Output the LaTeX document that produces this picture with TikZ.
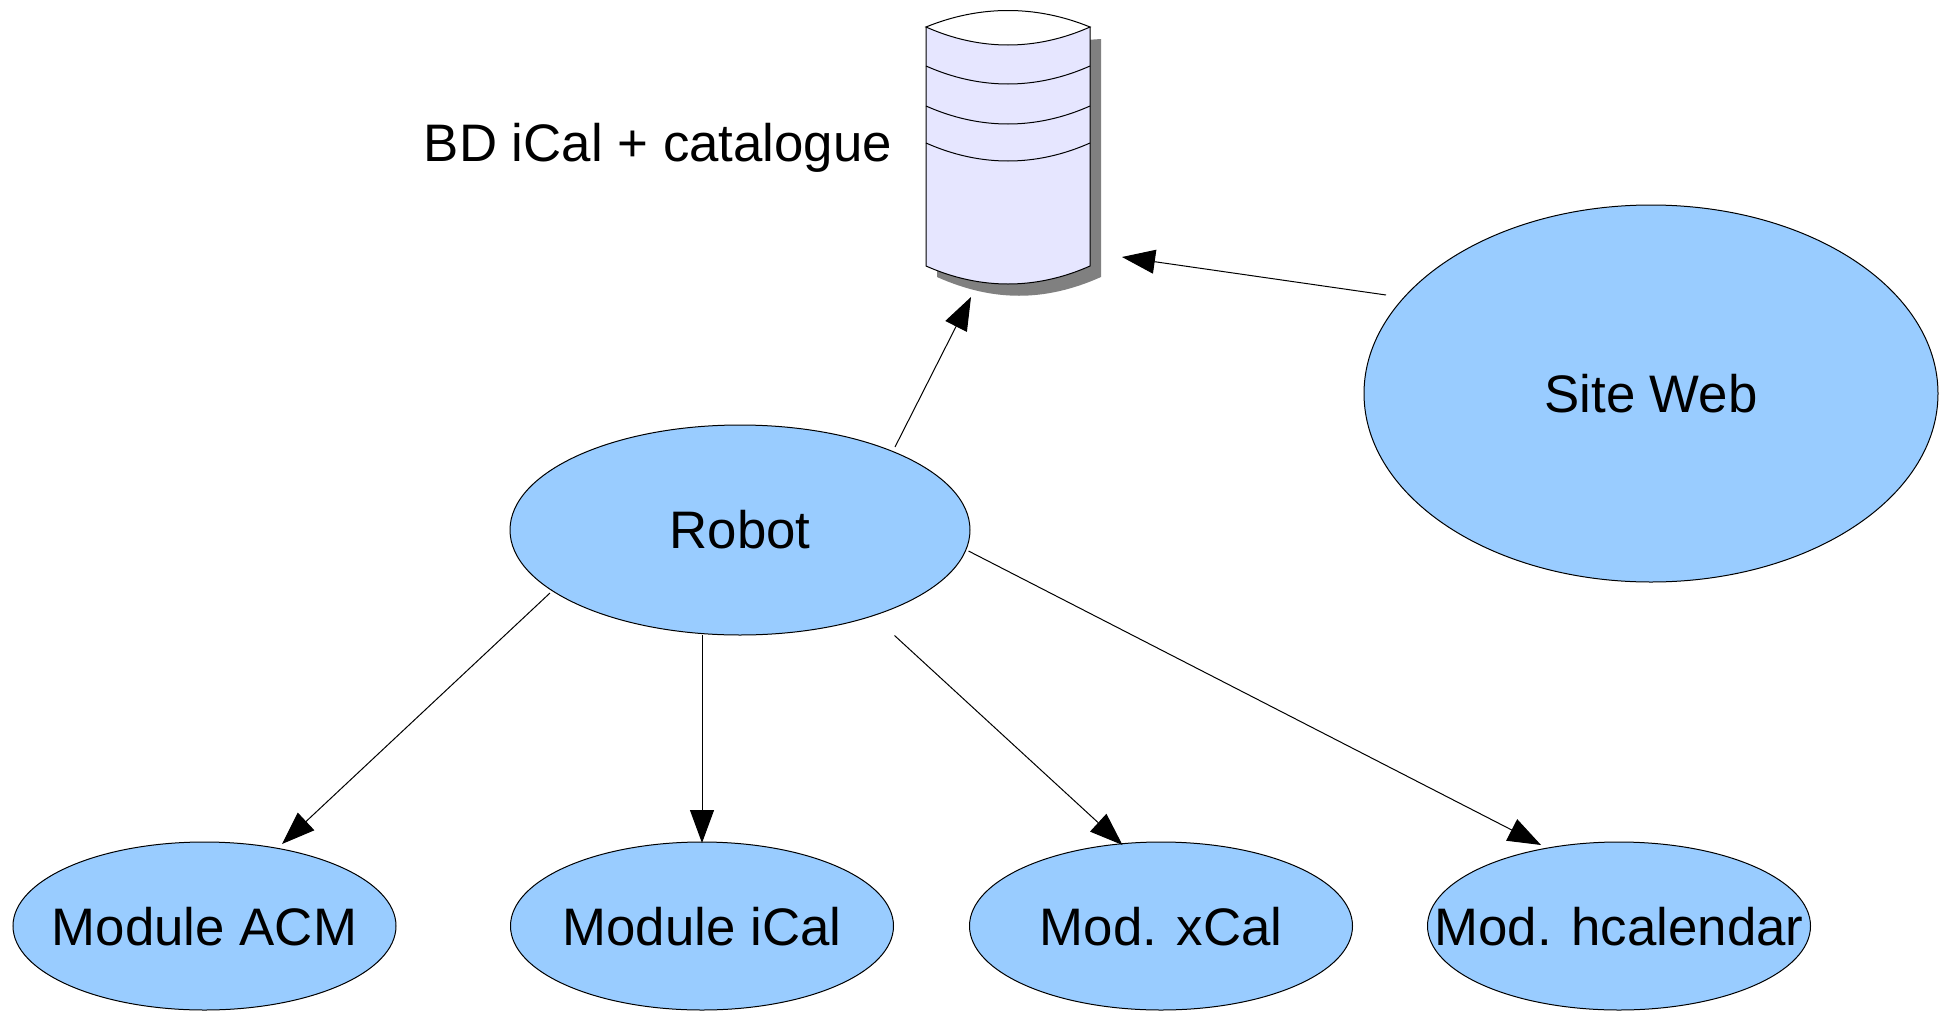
\documentclass[tikz,border=0pt]{standalone}
\usepackage{fontspec}
\setmainfont{Liberation Sans}
\usetikzlibrary{shapes.geometric,arrows.meta}
\tikzset{
  oval/.style={ellipse,draw=black,fill=ovalblue,line width=1pt,inner sep=0pt,text height=38pt,text depth=0pt,font=\fontsize{52.8}{60}\selectfont},
  conn/.style={draw=black,line width=1pt,-{Triangle[length=33pt,width=24pt]},shorten >=0pt},
  dbline/.style={draw=black,line width=1pt},
  freelabel/.style={inner sep=0pt,text height=38pt,text depth=0pt,font=\fontsize{52.8}{60}\selectfont}
}
\definecolor{ovalblue}{HTML}{99CCFF}
\definecolor{dbfill}{HTML}{E6E6FF}
\definecolor{dbshadow}{HTML}{808080}
\newcommand{\ovaltext}[1]{\makebox[0pt]{#1}}
\begin{document}
\begin{tikzpicture}[x=1pt,y=-1pt]
\useasboundingbox (0,0) rectangle (1952,1012);
% database
\fill[dbshadow] (937,277) -- (937,50) -- (1101,39) -- (1101,277) .. controls (1045,302) and (993,302) .. (937,277) -- cycle;
\path[fill=dbfill,dbline] (926,27) -- (926,266) .. controls (980,290) and (1036,290) .. (1090,266) -- (1090,27) -- cycle;
\path[fill=white,dbline] (926,27) .. controls (980,5) and (1036,5) .. (1090,27) .. controls (1036,51) and (980,51) .. (926,27) -- cycle;
\draw[dbline] (926,66) .. controls (980,90) and (1036,90) .. (1090,66);
\draw[dbline] (926,106) .. controls (980,130) and (1036,130) .. (1090,106);
\draw[dbline] (926,143) .. controls (980,167) and (1036,167) .. (1090,143);
\node[freelabel,anchor=center] (dblabel) at (658,142.5) {BD iCal + catalogue};
% ovals
\node[oval,minimum width=574pt,minimum height=377pt] (site) at (1651,393.5) {\ovaltext{Site Web}};
\node[oval,minimum width=460pt,minimum height=210pt] (robot) at (740,530) {\raisebox{1pt}{\ovaltext{Robot}}};
\node[oval,minimum width=383pt,minimum height=168pt] (acm) at (204.5,926) {\ovaltext{Module ACM}};
\node[oval,minimum width=383pt,minimum height=168pt] (ical) at (702,926) {\ovaltext{Module iCal}};
\node[oval,minimum width=383pt,minimum height=168pt] (xcal) at (1161,926) {\ovaltext{Mod. xCal}};
\node[oval,minimum width=383pt,minimum height=168pt] (hcal) at (1619,926) {\ovaltext{Mod. hcalendar}};
% connector ends
\coordinate (dbA) at (971,297);
\coordinate (dbB) at (1122,257);
\coordinate (siteOut) at (1386,295);
\coordinate (rTop) at (895,447);
\coordinate (rAcm) at (550,593);
\coordinate (rIcal) at (702,635);
\coordinate (rXcal) at (894.5,635.5);
\coordinate (rHcal) at (968.5,551);
\coordinate (acmIn) at (282,844);
\coordinate (icalIn) at (702,843);
\coordinate (xcalIn) at (1122.5,845);
\coordinate (hcalIn) at (1541,845);
\draw[conn] (rTop) -- (dbA);
\draw[conn] (siteOut) -- (dbB);
\draw[conn] (rAcm) -- (acmIn);
\draw[conn] (rIcal) -- (icalIn);
\draw[conn] (rXcal) -- (xcalIn);
\draw[conn] (rHcal) -- (hcalIn);
\end{tikzpicture}
\end{document}
